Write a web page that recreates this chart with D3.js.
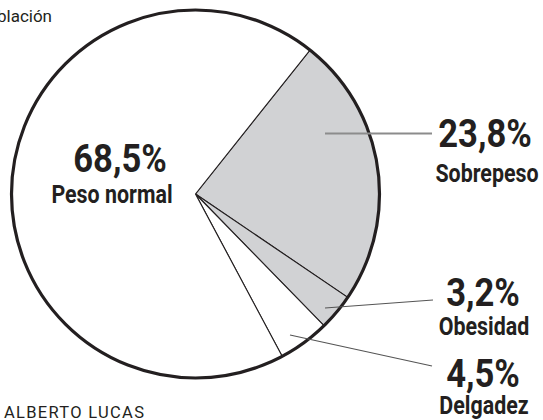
<!DOCTYPE html>
<html><head><meta charset="utf-8">
<script src="https://cdn.jsdelivr.net/npm/d3@7"></script>
<style>
html,body{margin:0;padding:0;background:#fff;overflow:hidden;}
svg{display:block;}
</style></head>
<body><svg id="c" width="543" height="420"></svg>
<script>
// Data
const categories = ["Sobrepeso", "Obesidad", "Delgadez", "Peso normal"];
const values = [23.8, 3.2, 4.5, 68.5];
const labels = ["23,8%", "3,2%", "4,5%", "68,5%"];
const fills = ["#d1d2d4", "#d1d2d4", "#ffffff", "#ffffff"];

const svg = d3.select("#c");
const cx = 195.5, cy = 194, R = 184;
const ink = "#231f20";
const font = "Roboto,'Liberation Sans',sans-serif";

const data = categories.map((c, i) => ({cat: c, value: values[i], label: labels[i], fill: fills[i]}));
const startA = 0.672;
const pie = d3.pie().sort(null).value(d => d.value).startAngle(startA).endAngle(startA + 2 * Math.PI);
const arcs = pie(data);
const arc = d3.arc().innerRadius(0).outerRadius(R);

const g = svg.append("g").attr("transform", `translate(${cx},${cy})`);
g.selectAll("path.slice").data(arcs).join("path")
  .attr("class", "slice")
  .attr("d", arc)
  .attr("fill", d => d.data.fill)
  .attr("stroke", ink)
  .attr("stroke-width", 1.1)
  .attr("stroke-linejoin", "miter");
g.append("circle").attr("r", R).attr("fill", "none").attr("stroke", ink).attr("stroke-width", 3.2);

// leader lines (annotation layout)
const leaders = [
  {from: [325, 133.5], to: [432, 133.5], w: 2, c: "#8c8c8c"},
  {from: [325, 308], to: [433, 300], w: 1.2, c: "#555"},
  {from: [290, 335], to: [432, 366], w: 1.2, c: "#555"}
];
svg.selectAll("line.lead").data(leaders).join("line")
  .attr("class", "lead")
  .attr("x1", d => d.from[0]).attr("y1", d => d.from[1])
  .attr("x2", d => d.to[0]).attr("y2", d => d.to[1])
  .attr("stroke", d => d.c).attr("stroke-width", d => d.w);

// labels
const labelPos = [
  {x: 485, yPct: 147, xCat: 487, yCat: 182},
  {x: 483, yPct: 306, xCat: 484, yCat: 335},
  {x: 483, yPct: 387, xCat: 484, yCat: 414},
  {x: 120, yPct: 172, xCat: 112, yCat: 203}
];
function label(x, y, size, sx, txt) {
  svg.append("text")
    .attr("transform", `translate(${x},${y}) scale(${sx},1)`)
    .attr("text-anchor", "middle").attr("font-family", font).attr("font-weight", "bold")
    .attr("font-size", size).attr("fill", ink).text(txt);
}
arcs.forEach((a, i) => {
  const p = labelPos[i];
  label(p.x, p.yPct, 38, 0.91, a.data.label);
  label(p.xCat, p.yCat, 25.5, 0.84, a.data.cat);
});

// header fragment and credit
svg.append("text").attr("x", 52).attr("y", 22).attr("text-anchor", "end")
  .attr("font-family", font).attr("font-size", 17).attr("fill", ink)
  .text("Porcentaje de la población");
svg.append("text").attr("x", 4).attr("y", 417.5)
  .attr("font-family", font).attr("font-size", 16.5).attr("letter-spacing", 1.3).attr("fill", ink)
  .text("ALBERTO LUCAS");
</script></body></html>
